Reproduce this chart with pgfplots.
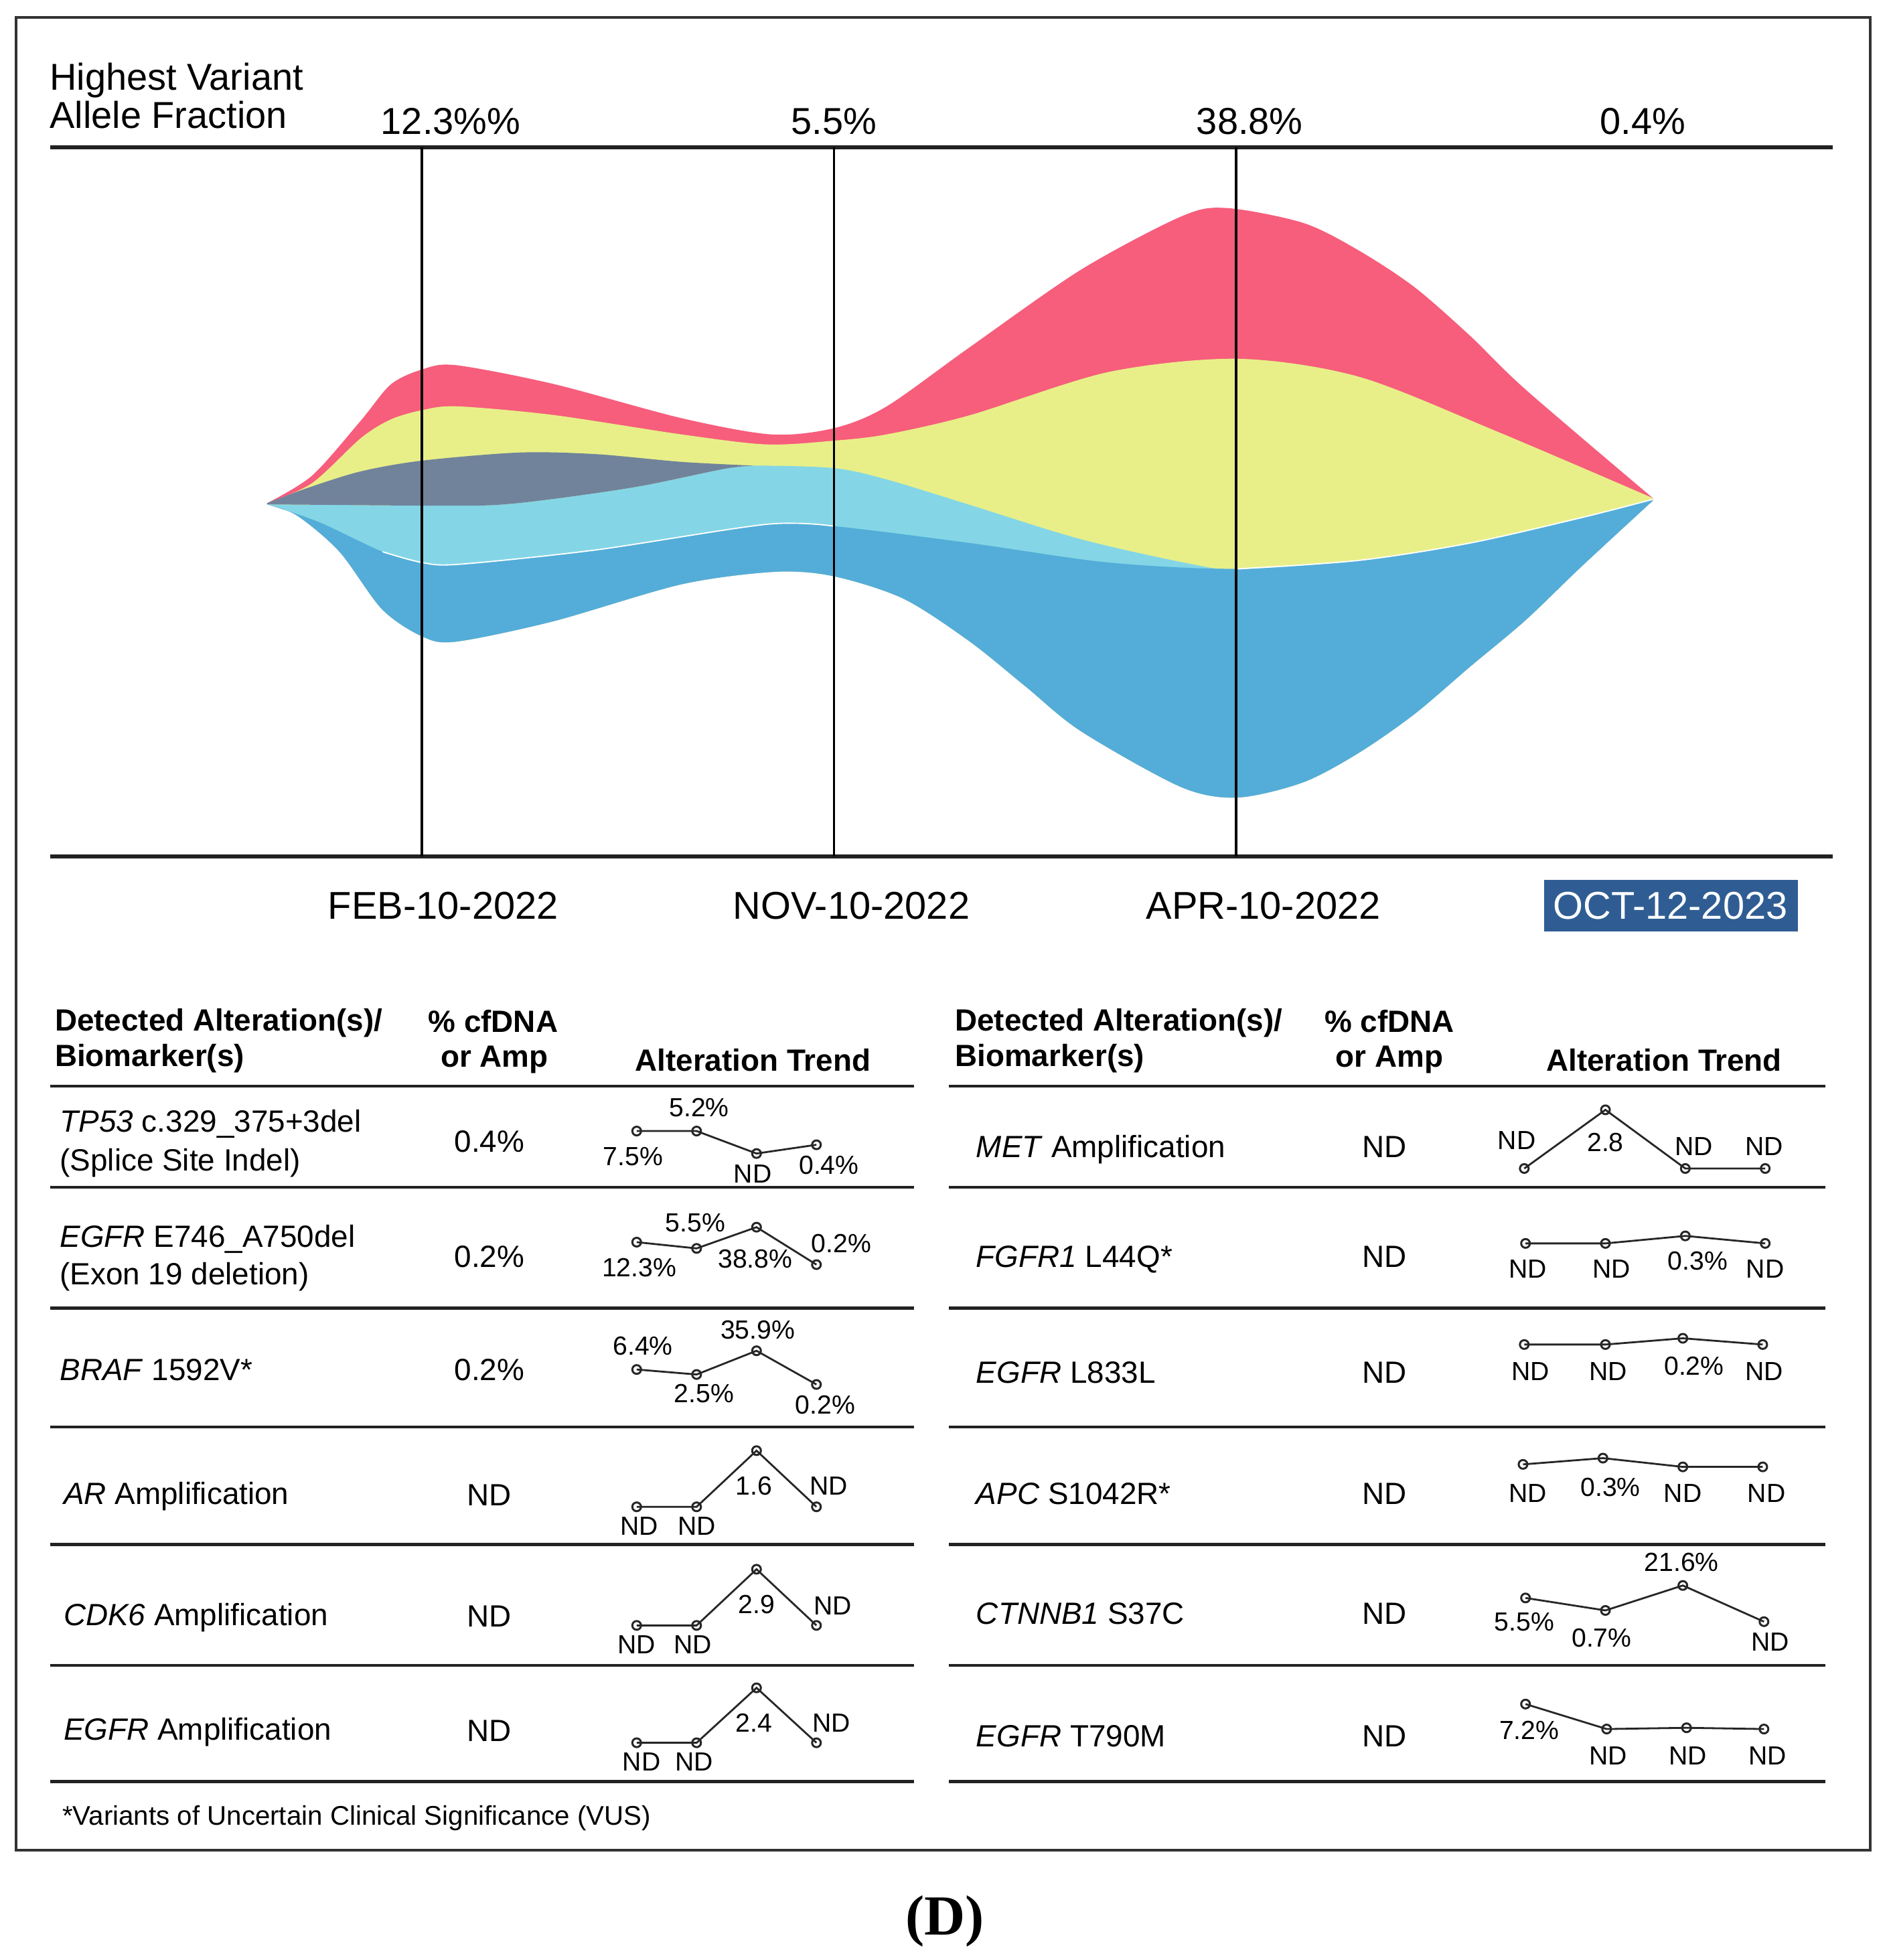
\documentclass[border=0pt]{standalone}
\usepackage{fontspec}
\setmainfont{Liberation Sans}
\newfontfamily\serifbf{Liberation Serif}
\usepackage{pgfplots}
\pgfplotsset{compat=1.18}
\usepgfplotslibrary{fillbetween}

\definecolor{fishred}{HTML}{F65E7C}
\definecolor{fishyellow}{HTML}{E8EF88}
\definecolor{fishgray}{HTML}{71839B}
\definecolor{fishlight}{HTML}{84D6E6}
\definecolor{fishblue}{HTML}{53ADD8}
\definecolor{datebox}{HTML}{2F5D93}
\definecolor{rulec}{HTML}{222222}

% font sizes (1 px of the reference = 0.5pt)
\newcommand{\fTop}{\fontsize{15pt}{17pt}\selectfont}
\newcommand{\fDate}{\fontsize{15.5pt}{18pt}\selectfont}
\newcommand{\fHead}{\fontsize{12.3pt}{14pt}\selectfont\bfseries}
\newcommand{\fRow}{\fontsize{12.3pt}{14pt}\selectfont}
\newcommand{\fSp}{\fontsize{10.5pt}{12pt}\selectfont}
\newcommand{\fFoot}{\fontsize{10.8pt}{12pt}\selectfont}

\tikzset{
  lab/.style={inner sep=0pt, outer sep=0pt, anchor=base},
  labw/.style={inner sep=0pt, outer sep=0pt, anchor=base west},
}
\pgfplotsset{
  spark/.style={black!85, line width=0.75pt, mark=o, mark size=1.75pt,
    mark options={fill=white, line width=0.8pt, solid}},
}

\begin{document}
\begin{tikzpicture}
\begin{axis}[
  width=758pt, height=785pt, scale only axis,
  xmin=0, xmax=1516, ymin=0, ymax=1570, y dir=reverse,
  axis lines=none, clip=false,
]
% full canvas, so the page keeps the reference's frame
\path (0,0) rectangle (1516,1570);

% ---- fish plot boundaries
\addplot[name path=A, draw=none, smooth] coordinates {
 (214,403) (250,381) (289,337) (313,308) (338,296) (365,292.5) (443,307.5)
 (546,335) (618,348) (668,343) (710,325.7) (777,278) (866,216) (946,173.5)
 (982,166.6) (1044,178.6) (1088.5,200.7) (1133,230) (1177.6,269) (1222,312)
 (1324,399)};
\addplot[name path=B, draw=none, smooth] coordinates {
 (214,403) (250,387) (289,351) (313,336) (338,328.6) (366,325.5) (443,332.4)
 (546,348) (614,356) (668,353) (710,348) (777,332.6) (888,298) (991.5,287.4)
 (1088.5,301.8) (1200,346) (1324,399)};
\addplot[name path=L, draw=none, smooth] coordinates {
 (214,404) (338,405) (395,404.6) (443,399.7) (512,389.6) (580,375.6) (604,373)
 (668,375) (710,384) (777,404.5) (866,432) (955,452) (991.5,455.7)
 (1088.5,448.9) (1177.6,435) (1266.6,414.7) (1324,400)};
\addplot[name path=D, draw=none, smooth] coordinates {
 (214,404) (255,418) (306.5,442) (338,450.6) (368,452) (477.5,440.5) (614,420)
 (668,421.5) (777,435) (888,450.6) (991.5,455.7)
 (1088.5,448.9) (1177.6,435) (1266.6,414.7) (1324,400)};
\addplot[name path=E, draw=none, smooth] coordinates {
 (214,404) (238,413) (272,442) (306,488) (338,509.7) (365,514) (443,497.7)
 (546,468) (621,458) (668,461.6) (723.8,479.6) (777,514) (821.7,550)
 (866,585.8) (946,630.4) (991.5,638.8) (1044,626.6) (1088.5,603) (1133,572)
 (1177.6,534) (1222,496.8) (1266.6,454) (1324,401)};
\addplot[name path=G, draw=none, smooth] coordinates {
 (214,403) (246,391) (289,377.6) (338,369) (416,362.5) (477.5,363.8)
 (546,370) (604,373)};
\addplot[name path=Lg, draw=none, smooth] coordinates {
 (214,404) (338,405) (395,404.6) (443,399.7) (512,389.6) (580,375.6) (604,373)};

\addplot[fishred] fill between[of=A and E];
\addplot[fishyellow] fill between[of=B and E];
\addplot[fishlight] fill between[of=L and E];
\addplot[fishblue] fill between[of=D and E];
\addplot[fishgray] fill between[of=G and Lg];

% thin white seams
\addplot[white, line width=0.5pt, smooth] coordinates {
 (306.5,442) (338,450.6) (368,452) (477.5,440.5) (614,420) (668,421.5)};
\addplot[white, line width=0.5pt, smooth] coordinates {
 (991.5,455.7) (1088.5,448.9) (1177.6,435) (1266.6,414.7) (1324,400)};

% ---- frame of the fish plot
\draw[line width=1.75pt, rulec] (40,118) -- (1468,118);
\draw[line width=1.75pt, rulec] (40,686) -- (1468,686);
\draw[line width=1pt, black] (338,118) -- (338,686);
\draw[line width=1pt, black] (668,118) -- (668,686);
\draw[line width=1pt, black] (990,118) -- (990,686);

% outer border
\draw[line width=1pt, black!80] (13,14) rectangle (1498,1482);

% ---- header texts
\node[labw] at (40,72) {\fTop Highest Variant};
\node[labw] at (40,102.5) {\fTop Allele Fraction};
\node[lab] at (361,107.5) {\fTop 12.3\%\%};
\node[lab] at (668,107.5) {\fTop 5.5\%};
\node[lab] at (1001,107.5) {\fTop 38.8\%};
\node[lab] at (1316,107.5) {\fTop 0.4\%};

\node[lab] at (355,736) {\fDate FEB-10-2022};
\node[lab] at (682,736) {\fDate NOV-10-2022};
\node[lab] at (1012,736) {\fDate APR-10-2022};
\fill[datebox] (1237,705) rectangle (1440,746);
\node[lab, text=white] at (1338,736) {\fDate OCT-12-2023};

% ---- table headers
\node[labw] at (44,826) {\fHead Detected Alteration(s)/};
\node[labw] at (44,854) {\fHead Biomarker(s)};
\node[lab] at (395,827) {\fHead \% cfDNA};
\node[lab] at (396,855) {\fHead or Amp};
\node[lab] at (603,858) {\fHead Alteration Trend};
\node[labw] at (765,826) {\fHead Detected Alteration(s)/};
\node[labw] at (765,854) {\fHead Biomarker(s)};
\node[lab] at (1113,827) {\fHead \% cfDNA};
\node[lab] at (1113,855) {\fHead or Amp};
\node[lab] at (1333,858) {\fHead Alteration Trend};

% table rules
\pgfplotsinvokeforeach{870,951,1048,1143,1237,1334,1427}{
  \draw[line width=1.25pt, rulec] (40,#1) -- (732,#1);
  \draw[line width=1.25pt, rulec] (760,#1) -- (1462,#1);
}

% ---- left table rows
\node[labw] at (48,907) {\fRow\textit{TP53} c.329\_375+3del};
\node[labw] at (48,938) {\fRow (Splice Site Indel)};
\node[lab] at (392,923) {\fRow 0.4\%};
\node[labw] at (48,999) {\fRow\textit{EGFR} E746\_A750del};
\node[labw] at (48,1029) {\fRow (Exon 19 deletion)};
\node[lab] at (392,1015) {\fRow 0.2\%};
\node[labw] at (48,1106) {\fRow\textit{BRAF} 1592V*};
\node[lab] at (392,1106) {\fRow 0.2\%};
\node[labw] at (51,1205) {\fRow\textit{AR} Amplification};
\node[lab] at (392,1206) {\fRow ND};
\node[labw] at (51,1302) {\fRow\textit{CDK6} Amplification};
\node[lab] at (392,1303) {\fRow ND};
\node[labw] at (51,1394) {\fRow\textit{EGFR} Amplification};
\node[lab] at (392,1395) {\fRow ND};

% ---- right table rows
\node[labw] at (782,927) {\fRow\textit{MET} Amplification};
\node[lab] at (1109,927) {\fRow ND};
\node[labw] at (782,1015) {\fRow\textit{FGFR1} L44Q*};
\node[lab] at (1109,1015) {\fRow ND};
\node[labw] at (782,1108) {\fRow\textit{EGFR} L833L};
\node[lab] at (1109,1108) {\fRow ND};
\node[labw] at (782,1205) {\fRow\textit{APC} S1042R*};
\node[lab] at (1109,1205) {\fRow ND};
\node[labw] at (782,1301) {\fRow\textit{CTNNB1} S37C};
\node[lab] at (1109,1301) {\fRow ND};
\node[labw] at (782,1399) {\fRow\textit{EGFR} T790M};
\node[lab] at (1109,1399) {\fRow ND};

% ---- trend sparklines, left
\addplot[spark] coordinates {(510,906) (558,906) (606,924) (654,917)};
\node[lab] at (560,894.5) {\fSp 5.2\%};
\node[lab] at (507,933.5) {\fSp 7.5\%};
\node[lab] at (603,947.5) {\fSp ND};
\node[lab] at (664,940.5) {\fSp 0.4\%};

\addplot[spark] coordinates {(510,995) (558,1000) (606,983) (654,1013)};
\node[lab] at (557,986.5) {\fSp 5.5\%};
\node[lab] at (512,1022.5) {\fSp 12.3\%};
\node[lab] at (605,1015.5) {\fSp 38.8\%};
\node[lab] at (674,1003.5) {\fSp 0.2\%};

\addplot[spark] coordinates {(510,1097) (558,1101) (606,1082) (654,1109)};
\node[lab] at (515,1085.5) {\fSp 6.4\%};
\node[lab] at (607,1072.5) {\fSp 35.9\%};
\node[lab] at (564,1123.5) {\fSp 2.5\%};
\node[lab] at (661,1132.5) {\fSp 0.2\%};

\addplot[spark] coordinates {(510,1207) (558,1207) (606,1162) (654,1207)};
\node[lab] at (512,1229.5) {\fSp ND};
\node[lab] at (558,1229.5) {\fSp ND};
\node[lab] at (604,1197.5) {\fSp 1.6};
\node[lab] at (664,1197.5) {\fSp ND};

\addplot[spark] coordinates {(510,1302) (558,1302) (606,1257) (654,1302)};
\node[lab] at (510,1324.5) {\fSp ND};
\node[lab] at (555,1324.5) {\fSp ND};
\node[lab] at (606,1292.5) {\fSp 2.9};
\node[lab] at (667,1293.5) {\fSp ND};

\addplot[spark] coordinates {(510,1396) (558,1396) (606,1352) (654,1396)};
\node[lab] at (514,1418.5) {\fSp ND};
\node[lab] at (556,1418.5) {\fSp ND};
\node[lab] at (604,1387.5) {\fSp 2.4};
\node[lab] at (666,1387.5) {\fSp ND};

% ---- trend sparklines, right
\addplot[spark] coordinates {(1221,936) (1286,889) (1350,936) (1414,936)};
\node[lab] at (1215,920.5) {\fSp ND};
\node[lab] at (1286,922.5) {\fSp 2.8};
\node[lab] at (1357,925.5) {\fSp ND};
\node[lab] at (1413,925.5) {\fSp ND};

\addplot[spark] coordinates {(1222,996) (1286,996) (1350,990) (1414,996)};
\node[lab] at (1224,1023.5) {\fSp ND};
\node[lab] at (1291,1023.5) {\fSp ND};
\node[lab] at (1360,1017.5) {\fSp 0.3\%};
\node[lab] at (1414,1023.5) {\fSp ND};

\addplot[spark] coordinates {(1221,1077) (1286,1077) (1348,1072) (1412,1077)};
\node[lab] at (1226,1105.5) {\fSp ND};
\node[lab] at (1288,1105.5) {\fSp ND};
\node[lab] at (1357,1101.5) {\fSp 0.2\%};
\node[lab] at (1413,1105.5) {\fSp ND};

\addplot[spark] coordinates {(1220,1173) (1284,1168) (1348,1175) (1412,1175)};
\node[lab] at (1224,1203.5) {\fSp ND};
\node[lab] at (1290,1198.5) {\fSp 0.3\%};
\node[lab] at (1348,1203.5) {\fSp ND};
\node[lab] at (1415,1203.5) {\fSp ND};

\addplot[spark] coordinates {(1222,1280) (1286,1290) (1348,1270) (1413,1299)};
\node[lab] at (1347,1258.5) {\fSp 21.6\%};
\node[lab] at (1221,1306.5) {\fSp 5.5\%};
\node[lab] at (1283,1319.5) {\fSp 0.7\%};
\node[lab] at (1418,1322.5) {\fSp ND};

\addplot[spark] coordinates {(1222,1365) (1287,1385) (1351,1384) (1413,1385)};
\node[lab] at (1225,1393.5) {\fSp 7.2\%};
\node[lab] at (1288,1413.5) {\fSp ND};
\node[lab] at (1352,1413.5) {\fSp ND};
\node[lab] at (1416,1413.5) {\fSp ND};

% ---- footnote and panel letter
\node[labw] at (50,1462) {\fFoot *Variants of Uncertain Clinical Significance (VUS)};
\node[lab] at (757,1550) {\fontsize{22.7pt}{26pt}\selectfont\serifbf\bfseries (D)};

\end{axis}
\end{tikzpicture}
\end{document}
